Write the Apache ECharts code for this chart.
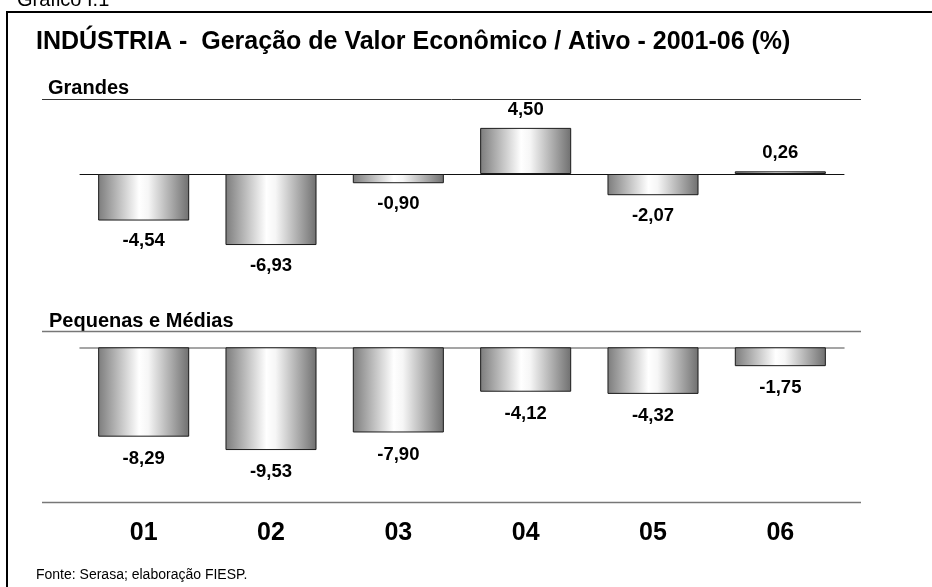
<!DOCTYPE html>
<html>
<head>
<meta charset="utf-8">
<script src="https://cdn.jsdelivr.net/npm/echarts@6/dist/echarts.min.js"></script>
<style>
  html, body { margin: 0; background: #fff; }
  #chart { width: 932px; height: 587px; }
</style>
</head>
<body>
<div id="chart"></div>
<script>
const years = ["01", "02", "03", "04", "05", "06"];
const grandes = [-4.54, -6.93, -0.90, 4.50, -2.07, 0.26];
const pequenasMedias = [-8.29, -9.53, -7.90, -4.12, -4.32, -1.75];

const FONT = "'Liberation Sans', Arial, sans-serif";
const fmt = (v) => v.toFixed(2).replace(".", ",");

const barFill = new echarts.graphic.LinearGradient(0, 0, 1, 0, [
  { offset: 0, color: "#7c7c7c" },
  { offset: 0.45, color: "#ffffff" },
  { offset: 0.55, color: "#f6f6f6" },
  { offset: 1, color: "#6f6f6f" },
]);

// negative bars get their label underneath, positive ones on top
function barData(values, distBelow, distAbove) {
  return values.map((v) => ({
    value: v,
    label: { position: v < 0 ? "bottom" : "top", distance: v < 0 ? distBelow : distAbove },
  }));
}

function barSeries(values, axisIndex, distBelow, distAbove) {
  return {
    type: "bar",
    xAxisIndex: axisIndex,
    yAxisIndex: axisIndex,
    barWidth: "71.5%",
    data: barData(values, distBelow, distAbove),
    itemStyle: { color: barFill, borderColor: "#1a1a1a", borderWidth: 1 },
    label: {
      show: true,
      formatter: (p) => fmt(p.value),
      color: "#000",
      fontFamily: FONT,
      fontWeight: "bold",
      fontSize: 18.5,
    },
    silent: true,
  };
}

const hiddenY = (min, max, gridIndex) => ({ type: "value", gridIndex, min, max, show: false });

const chart = echarts.init(document.getElementById("chart"), null, { renderer: "canvas" });
chart.setOption({
  animation: false,
  backgroundColor: "#fff",
  grid: [
    { left: 80, width: 764, top: 122.75, height: 133.25 },
    { left: 80, width: 764, top: 347.3, height: 118.6 },
    { left: 80, width: 764, top: 503, height: 1 },
  ],
  xAxis: [
    {
      type: "category", gridIndex: 0, data: years,
      axisLine: { onZero: true, lineStyle: { color: "#111", width: 1 } },
      axisTick: { show: false }, axisLabel: { show: false },
    },
    {
      type: "category", gridIndex: 1, data: years,
      axisLine: { onZero: true, lineStyle: { color: "#888", width: 1.5 } },
      axisTick: { show: false }, axisLabel: { show: false },
    },
    {
      type: "category", gridIndex: 2, data: years,
      axisLine: { show: false }, axisTick: { show: false },
      axisLabel: { margin: 17, color: "#000", fontFamily: FONT, fontWeight: "bold", fontSize: 25 },
    },
  ],
  yAxis: [hiddenY(-8, 5, 0), hiddenY(-11, 0, 1), hiddenY(0, 1, 2)],
  series: [barSeries(grandes, 0, 11, 8.5), barSeries(pequenasMedias, 1, 12.5, 8.5)],
  graphic: [
    {
      type: "rect", silent: true,
      shape: { x: 7, y: 12, width: 1000, height: 1000 },
      style: { fill: "none", stroke: "#000", lineWidth: 2 },
    },
    {
      type: "text", silent: true, x: 17, y: 0,
      style: { text: "Gráfico I.1", font: "20px " + FONT, fill: "#000", verticalAlign: "middle" },
    },
    {
      type: "text", silent: true, x: 36, y: 42.5,
      style: {
        text: "INDÚSTRIA -  Geração de Valor Econômico / Ativo - 2001-06 (%)",
        font: "bold 25px " + FONT, fill: "#000", verticalAlign: "middle",
      },
    },
    {
      type: "text", silent: true, x: 48, y: 88.5,
      style: { text: "Grandes", font: "bold 20px " + FONT, fill: "#000", verticalAlign: "middle" },
    },
    {
      type: "line", silent: true,
      shape: { x1: 42, y1: 99.5, x2: 861, y2: 99.5 },
      style: { stroke: "#333", lineWidth: 1 },
    },
    {
      type: "text", silent: true, x: 49, y: 321.5,
      style: { text: "Pequenas e Médias", font: "bold 20px " + FONT, fill: "#000", verticalAlign: "middle" },
    },
    {
      type: "line", silent: true,
      shape: { x1: 42, y1: 331.5, x2: 861, y2: 331.5 },
      style: { stroke: "#777", lineWidth: 1.5 },
    },
    {
      type: "line", silent: true,
      shape: { x1: 42, y1: 502.5, x2: 861, y2: 502.5 },
      style: { stroke: "#777", lineWidth: 1.5 },
    },
    {
      type: "text", silent: true, x: 36, y: 575,
      style: { text: "Fonte: Serasa; elaboração FIESP.", font: "14px " + FONT, fill: "#000", verticalAlign: "middle" },
    },
  ],
});
</script>
</body>
</html>
